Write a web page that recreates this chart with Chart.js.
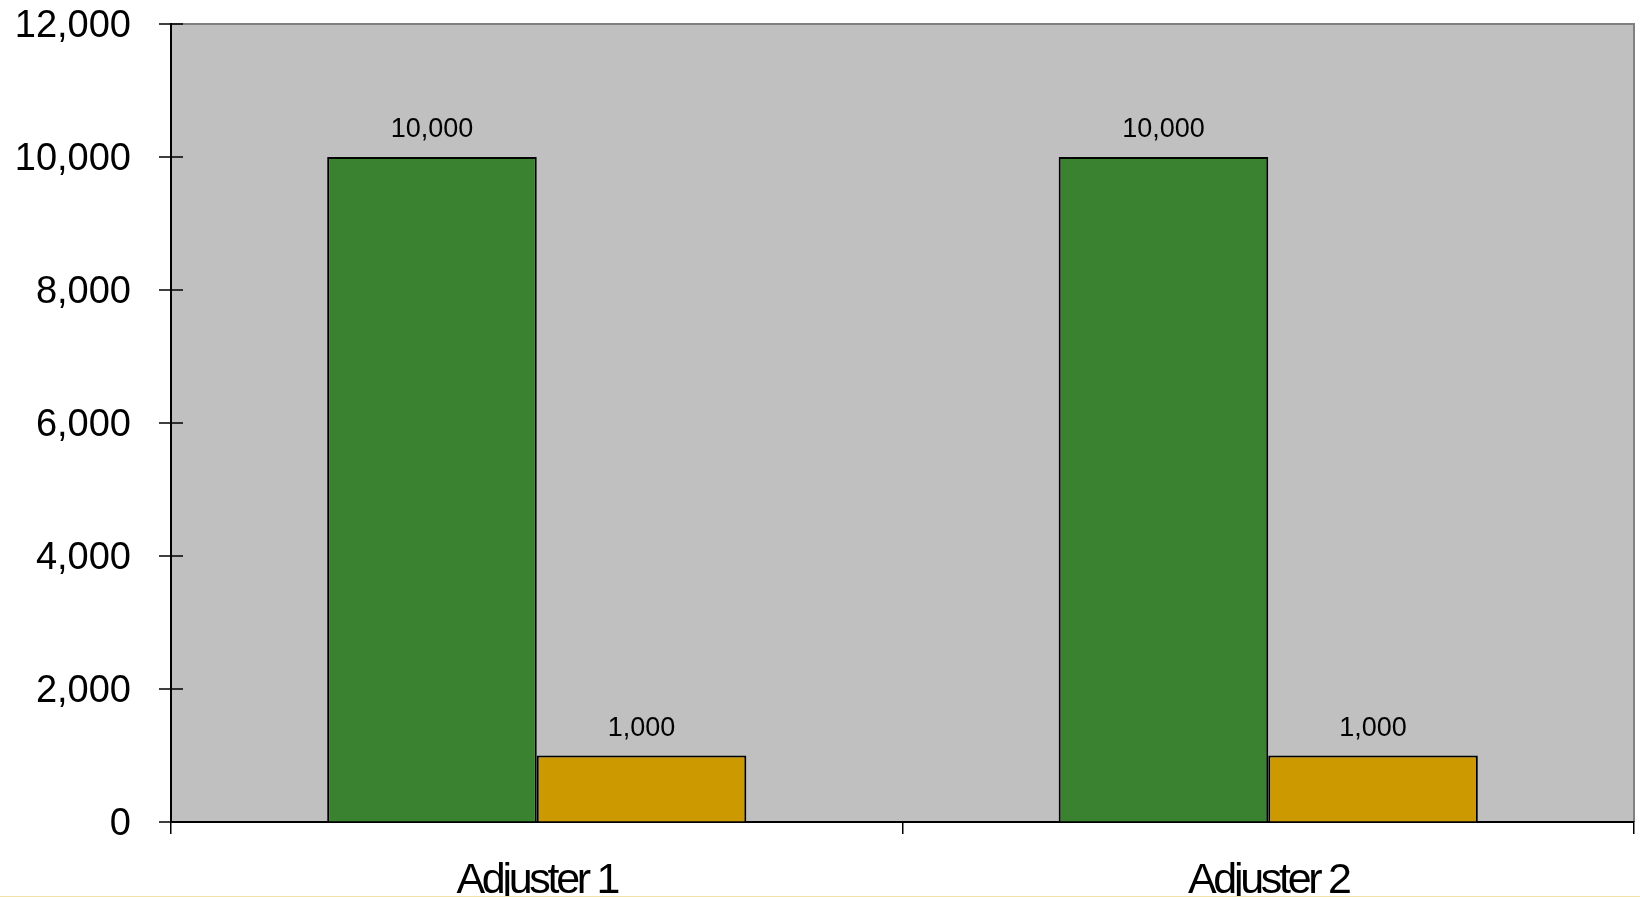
<!DOCTYPE html>
<html>
<head>
<meta charset="utf-8">
<script src="https://cdn.jsdelivr.net/npm/chart.js@4/dist/chart.umd.min.js"></script>
<style>
  html, body { margin: 0; padding: 0; background: #ffffff; }
  #wrap { position: relative; width: 1640px; height: 897px; }
  #wrap::after { content: ""; position: absolute; left: 0; right: 0; bottom: 0; height: 1px; background: #f0e2a8; }
</style>
</head>
<body>
<div id="wrap"><canvas id="c" width="1640" height="897"></canvas></div>
<script>
const categories = ['Adjuster 1', 'Adjuster 2'];
const seriesA = [10000, 10000];
const seriesB = [1000, 1000];
const yTicks = [0, 2000, 4000, 6000, 8000, 10000, 12000];

const FONT = "'Liberation Sans', Arial, sans-serif";
const fmt = v => v.toLocaleString('en-US');

// Grey plotting area with a darker frame on the top and right edges
const plotBackground = {
  id: 'plotBackground',
  beforeDraw(chart) {
    const { ctx, chartArea: a } = chart;
    ctx.save();
    ctx.fillStyle = '#c0c0c0';
    ctx.fillRect(a.left, a.top, a.right - a.left, a.bottom - a.top);
    ctx.strokeStyle = '#808080';
    ctx.lineWidth = 2;
    ctx.beginPath();
    ctx.moveTo(a.left, a.top);
    ctx.lineTo(a.right, a.top);
    ctx.lineTo(a.right, a.bottom);
    ctx.stroke();
    ctx.restore();
  }
};

// Tick marks crossing the value axis, condensed category labels,
// and value labels above each bar
const axisMarks = {
  id: 'axisMarks',
  afterDraw(chart) {
    const { ctx, chartArea: a, scales } = chart;
    ctx.save();
    ctx.strokeStyle = '#000';
    ctx.lineWidth = 1.5;
    ctx.beginPath();
    yTicks.forEach(v => {
      const y = Math.round(scales.y.getPixelForValue(v));
      ctx.moveTo(a.left - 12, y);
      ctx.lineTo(a.left + 12, y);
    });
    ctx.stroke();

    ctx.fillStyle = '#000';
    ctx.textAlign = 'center';
    ctx.textBaseline = 'alphabetic';

    ctx.font = '43px ' + FONT;
    ctx.letterSpacing = '-3.3px';
    categories.forEach((c, i) => {
      ctx.fillText(c, scales.x.getPixelForValue(i), a.bottom + 71);
    });

    ctx.font = '27px ' + FONT;
    ctx.letterSpacing = '0px';
    chart.data.datasets.forEach((ds, i) => {
      chart.getDatasetMeta(i).data.forEach((bar, j) => {
        ctx.fillText(fmt(ds.data[j]), bar.x, bar.y - 20);
      });
    });
    ctx.restore();
  }
};

new Chart(document.getElementById('c'), {
  type: 'bar',
  data: {
    labels: categories,
    datasets: [
      { data: seriesA, backgroundColor: '#3a8230', borderColor: '#000', borderWidth: 2 },
      { data: seriesB, backgroundColor: '#cc9900', borderColor: '#000', borderWidth: 2 }
    ]
  },
  options: {
    responsive: false,
    animation: false,
    devicePixelRatio: 1,
    layout: { autoPadding: false, padding: { top: 24, right: 6, left: 0, bottom: 0 } },
    plugins: { legend: { display: false }, tooltip: { enabled: false } },
    datasets: { bar: { barPercentage: 1, categoryPercentage: 0.573 } },
    scales: {
      x: {
        offset: true,
        grid: { offset: true, drawOnChartArea: false, color: '#000', lineWidth: 1.5, tickLength: 12 },
        border: { color: '#000', width: 2 },
        ticks: { display: false },
        afterFit(s) { s.height = 75; s.paddingLeft = 0; s.paddingRight = 0; }
      },
      y: {
        min: 0, max: 12000,
        afterBuildTicks(s) { s.ticks = yTicks.map(v => ({ value: v })); },
        grid: { drawOnChartArea: false, drawTicks: false },
        border: { color: '#000', width: 2 },
        ticks: { color: '#000', font: { family: FONT, size: 38 }, padding: 40, labelOffset: 3, callback: v => fmt(v) },
        afterFit(s) { s.width = 171; s.paddingTop = 0; s.paddingBottom = 0; }
      }
    }
  },
  plugins: [plotBackground, axisMarks]
});
</script>
</body>
</html>
